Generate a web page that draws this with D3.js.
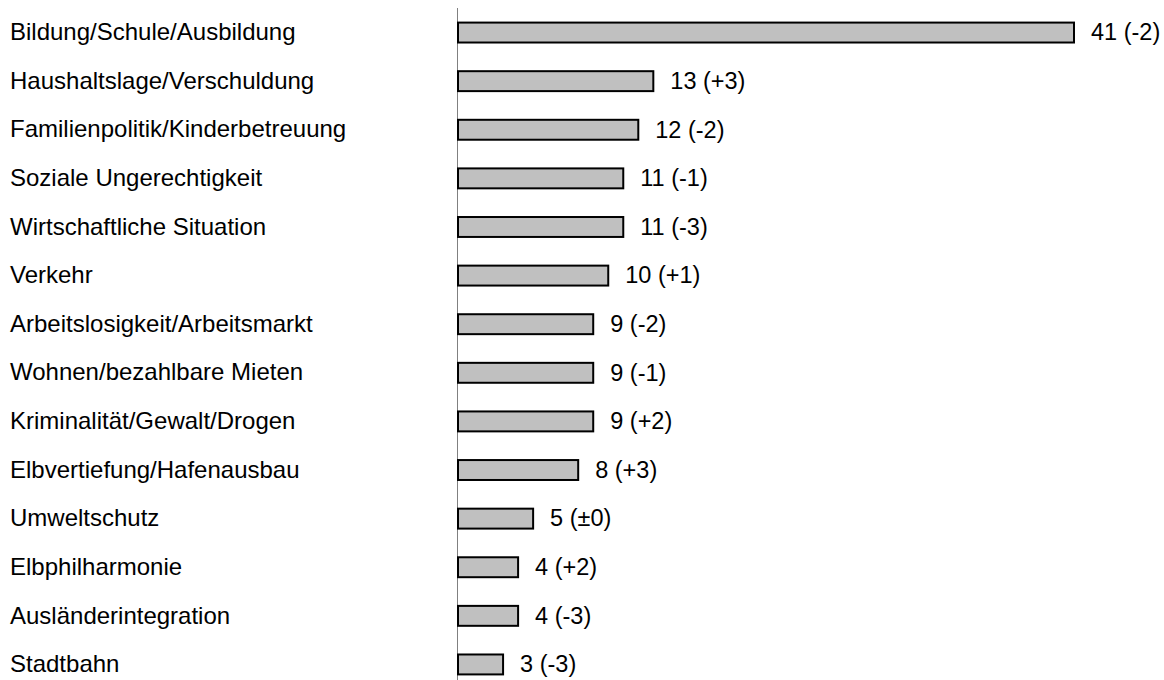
<!DOCTYPE html>
<html><head><meta charset="utf-8">
<script src="https://cdn.jsdelivr.net/npm/d3@7"></script>
<style>body{margin:0;background:#fff}svg{display:block}text{font-family:"Liberation Sans",Arial,sans-serif;fill:#000}</style>
</head><body><svg id="c" width="1164" height="680"></svg>
<script>
const categories = ["Bildung/Schule/Ausbildung","Haushaltslage/Verschuldung","Familienpolitik/Kinderbetreuung","Soziale Ungerechtigkeit","Wirtschaftliche Situation","Verkehr","Arbeitslosigkeit/Arbeitsmarkt","Wohnen/bezahlbare Mieten","Kriminalität/Gewalt/Drogen","Elbvertiefung/Hafenausbau","Umweltschutz","Elbphilharmonie","Ausländerintegration","Stadtbahn"];
const values = [41,13,12,11,11,10,9,9,9,8,5,4,4,3];
const changes = ["-2","+3","-2","-1","-3","+1","-2","-1","+2","+3","±0","+2","-3","-3"];

const svg = d3.select("#c");
const x = d3.scaleLinear().domain([0,41]).range([458,1074]);
const y = d3.scaleBand().domain(categories).range([8,689]).paddingInner(0.59).paddingOuter(0.3);

svg.append("line").attr("x1",457.5).attr("x2",457.5).attr("y1",8).attr("y2",680).attr("stroke","#808080").attr("stroke-width",1);

const g = svg.selectAll("g.row").data(categories).enter().append("g");
g.append("rect").attr("x",x(0)).attr("y",d=>y(d)).attr("width",(d,i)=>x(values[i])-x(0)).attr("height",y.bandwidth())
 .attr("fill","#c0c0c0").attr("stroke","#000").attr("stroke-width",2);
g.append("text").attr("x",10).attr("y",d=>y(d)+y.bandwidth()/2).attr("dy","0.32em").attr("font-size",24).text(d=>d);
g.append("text").attr("x",(d,i)=>x(values[i])+17).attr("y",d=>y(d)+y.bandwidth()/2).attr("dy","0.33em").attr("font-size",23.5)
 .text((d,i)=>values[i]+" ("+changes[i]+")");
</script></body></html>
